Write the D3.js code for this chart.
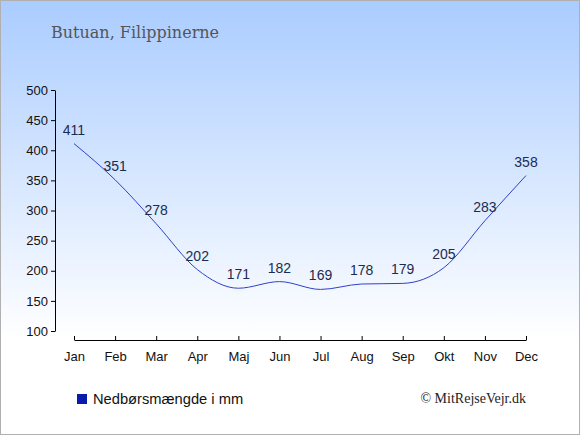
<!DOCTYPE html>
<html>
<head>
<meta charset="utf-8">
<script src="https://cdn.jsdelivr.net/npm/d3@7"></script>
<style>
  body { margin: 0; }
  svg { display: block; }
</style>
</head>
<body>
<svg id="chart" width="580" height="435"></svg>
<script>
// monthly precipitation, Butuan
let months = ["Jan", "Feb", "Mar", "Apr", "Maj", "Jun", "Jul", "Aug", "Sep", "Okt", "Nov", "Dec"];
let rain = [411, 351, 278, 202, 171, 182, 169, 178, 179, 205, 283, 358];
let yTicks = [100, 150, 200, 250, 300, 350, 400, 450, 500];

let svg = d3.select("#chart");

// background gradient
let grad = svg.append("defs").append("linearGradient")
    .attr("id", "bg")
    .attr("x1", 0).attr("y1", 0).attr("x2", 0).attr("y2", 1);
grad.append("stop").attr("offset", "0%").attr("stop-color", "#aaccff");
grad.append("stop").attr("offset", "78%").attr("stop-color", "#ffffff");
grad.append("stop").attr("offset", "100%").attr("stop-color", "#ffffff");

svg.append("rect")
    .attr("x", 0.5).attr("y", 0.5)
    .attr("width", 579).attr("height", 434)
    .attr("fill", "url(#bg)")
    .attr("stroke", "#b0b0b0");

svg.append("text")
    .attr("x", 51).attr("y", 38)
    .attr("font-family", "DejaVu Serif")
    .attr("font-size", 16)
    .attr("fill", "#555")
    .text("Butuan, Filippinerne");

// scales
let x = d3.scalePoint()
    .domain(months)
    .range([74, 526]);
let y = d3.scaleLinear()
    .domain([100, 500])
    .range([331, 90]);

// y axis
let axisY = d3.axisLeft(y).tickValues(yTicks).tickSize(4).tickSizeOuter(0);
let gY = svg.append("g").attr("transform", "translate(55,0)").call(axisY);
gY.select(".domain").attr("stroke", "#000");
gY.selectAll("text")
    .attr("font-family", "Liberation Sans, Arial, sans-serif")
    .attr("font-size", 13)
    .attr("fill", "#111");

// x axis
let axisX = d3.axisBottom(x).tickSize(-4).tickSizeOuter(0);
let gX = svg.append("g").attr("transform", "translate(0,340)").call(axisX);
gX.selectAll("text")
    .attr("dy", "1.4em")
    .attr("font-family", "Liberation Sans, Arial, sans-serif")
    .attr("font-size", 13)
    .attr("fill", "#111");

// line
let line = d3.line()
    .x((d, i) => x(months[i]))
    .y(d => y(d))
    .curve(d3.curveMonotoneX);

svg.append("path")
    .datum(rain)
    .attr("d", line)
    .attr("fill", "none")
    .attr("stroke", "#3040c8")
    .attr("stroke-width", 1);

// value labels
svg.selectAll(".lbl")
    .data(rain).enter()
    .append("text")
    .attr("class", "lbl")
    .attr("x", (d, i) => x(months[i]))
    .attr("y", d => y(d) - 9)
    .attr("text-anchor", "middle")
    .attr("font-family", "Liberation Sans, Arial, sans-serif")
    .attr("font-size", 14)
    .attr("fill", "#1c2b4f")
    .text(d => d);

// legend
svg.append("rect")
    .attr("x", 77).attr("y", 394)
    .attr("width", 10).attr("height", 10)
    .attr("fill", "#0a1aaa");
svg.append("text")
    .attr("x", 93).attr("y", 404)
    .attr("font-family", "Liberation Sans, Arial, sans-serif")
    .attr("font-size", 14.7)
    .attr("fill", "#111")
    .text("Nedbørsmængde i mm");

svg.append("text")
    .attr("x", 526).attr("y", 403)
    .attr("text-anchor", "end")
    .attr("font-family", "Liberation Serif")
    .attr("font-size", 14)
    .attr("fill", "#222")
    .text("© MitRejseVejr.dk");
</script>
</body>
</html>
